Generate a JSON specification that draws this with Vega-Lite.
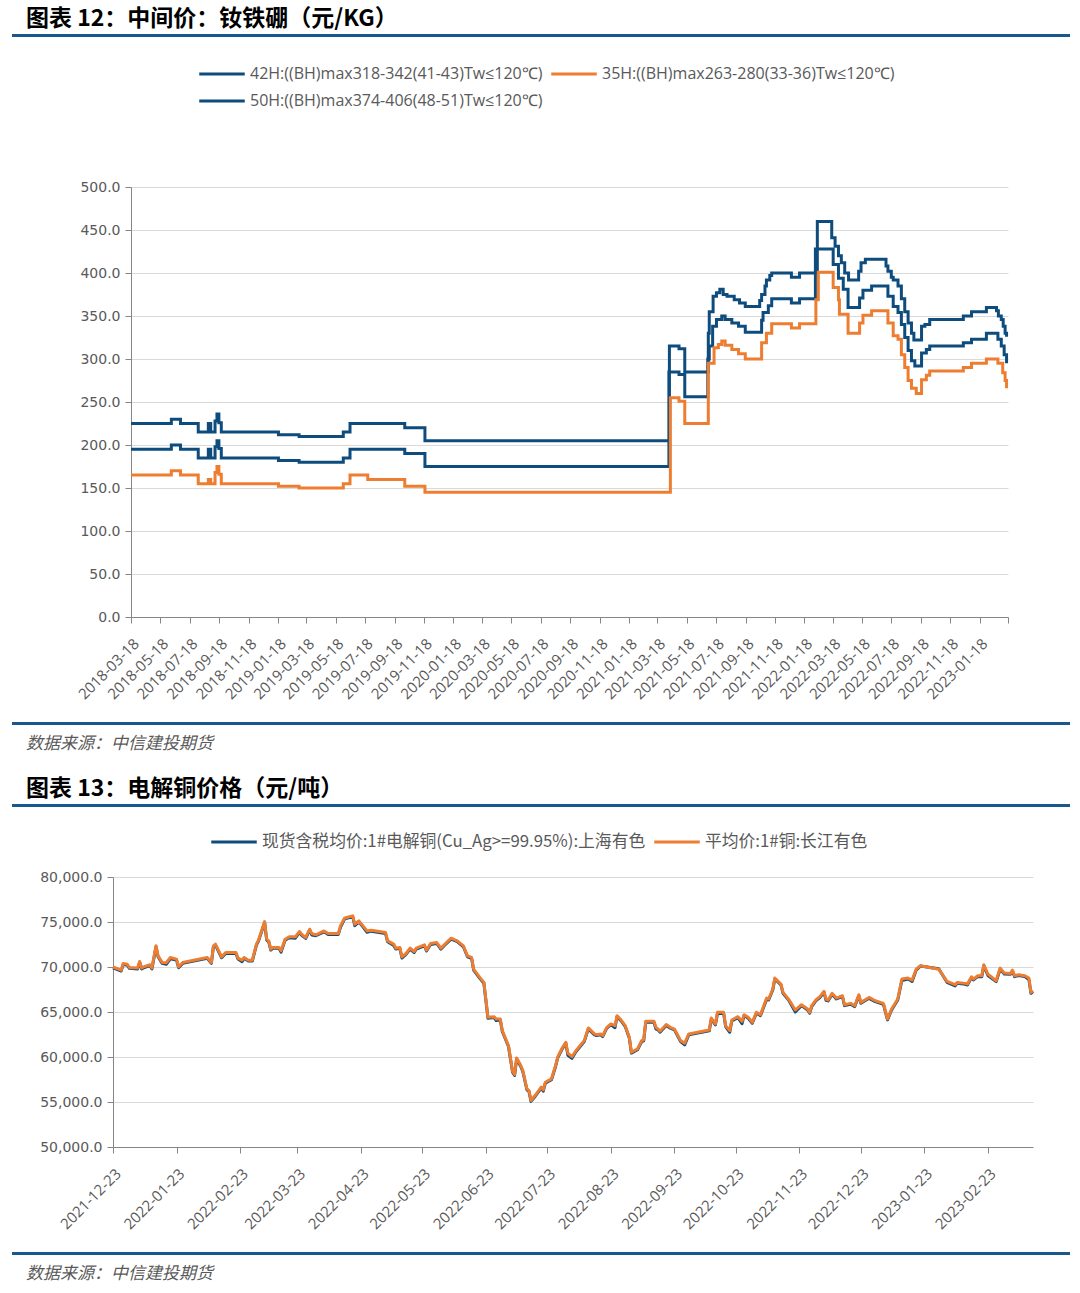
{
  "$schema": "https://vega.github.io/schema/vega-lite/v6.json",
  "background": "white",
  "padding": {"left": 12, "right": 8, "top": 7, "bottom": 4},
  "config": {
    "font": "Noto Sans CJK SC",
    "view": {"stroke": null},
    "axis": {
      "domainColor": "#868686", "tickColor": "#868686", "gridColor": "#d9d9d9",
      "labelColor": "#595959", "title": null, "domainWidth": 1, "tickWidth": 1
    },
    "legend": {"padding": 0}
  },
  "resolve": {"scale": {"color": "independent"}, "legend": {"color": "independent"}},
  "columns": 1,
  "spacing": 0,
  "concat": [
    {
      "width": 1056, "height": 1,
      "view": {"stroke": "#17598F", "strokeWidth": 2},
      "title": {"text": "图表 12：中间价：钕铁硼（元/KG）", "anchor": "start", "dx": 13, "offset": 4, "fontSize": 23, "fontWeight": "bold", "color": "#000000", "font": "Noto Sans CJK SC"},
      "data": {"values": []},
      "mark": "rule",
      "encoding": {}
    },
    {"width": 1, "height": 18, "data": {"values": []}, "mark": "rule", "encoding": {}},
    {
      "spacing": 0,
      "hconcat": [
        {"width": 1, "height": 1, "data": {"values": []}, "mark": "rule", "encoding": {}},
        {
          "width": 877, "height": 430,
          "data": {"values": [
            {"s":"50H","d":"2018-03-18","v":225},{"s":"50H","d":"2018-06-10","v":230},{"s":"50H","d":"2018-06-29","v":225},{"s":"50H","d":"2018-08-05","v":215},{"s":"50H","d":"2018-08-26","v":225},{"s":"50H","d":"2018-08-31","v":215},{"s":"50H","d":"2018-09-09","v":228},{"s":"50H","d":"2018-09-13","v":236},{"s":"50H","d":"2018-09-17","v":226},{"s":"50H","d":"2018-09-22","v":215},{"s":"50H","d":"2019-01-19","v":212},{"s":"50H","d":"2019-03-03","v":210},{"s":"50H","d":"2019-06-03","v":215},{"s":"50H","d":"2019-06-17","v":225},{"s":"50H","d":"2019-10-09","v":220},{"s":"50H","d":"2019-11-20","v":205},{"s":"50H","d":"2021-04-12","v":315},{"s":"50H","d":"2021-05-02","v":312},{"s":"50H","d":"2021-05-14","v":285},{"s":"50H","d":"2021-07-02","v":330},{"s":"50H","d":"2021-07-04","v":355},{"s":"50H","d":"2021-07-12","v":373},{"s":"50H","d":"2021-07-19","v":377},{"s":"50H","d":"2021-07-26","v":381},{"s":"50H","d":"2021-08-02","v":375},{"s":"50H","d":"2021-08-10","v":373},{"s":"50H","d":"2021-08-25","v":369},{"s":"50H","d":"2021-09-05","v":365},{"s":"50H","d":"2021-09-17","v":361},{"s":"50H","d":"2021-10-17","v":368},{"s":"50H","d":"2021-10-21","v":375},{"s":"50H","d":"2021-10-28","v":385},{"s":"50H","d":"2021-10-31","v":392},{"s":"50H","d":"2021-11-07","v":397},{"s":"50H","d":"2021-11-11","v":400},{"s":"50H","d":"2021-12-22","v":395},{"s":"50H","d":"2022-01-08","v":400},{"s":"50H","d":"2022-02-14","v":460},{"s":"50H","d":"2022-03-16","v":441},{"s":"50H","d":"2022-03-23","v":431},{"s":"50H","d":"2022-03-30","v":420},{"s":"50H","d":"2022-04-05","v":412},{"s":"50H","d":"2022-04-12","v":400},{"s":"50H","d":"2022-04-20","v":392},{"s":"50H","d":"2022-05-11","v":402},{"s":"50H","d":"2022-05-16","v":412},{"s":"50H","d":"2022-05-25","v":416},{"s":"50H","d":"2022-07-07","v":408},{"s":"50H","d":"2022-07-11","v":402},{"s":"50H","d":"2022-07-18","v":395},{"s":"50H","d":"2022-07-22","v":392},{"s":"50H","d":"2022-08-01","v":385},{"s":"50H","d":"2022-08-08","v":370},{"s":"50H","d":"2022-08-15","v":355},{"s":"50H","d":"2022-08-22","v":342},{"s":"50H","d":"2022-08-29","v":330},{"s":"50H","d":"2022-09-03","v":322},{"s":"50H","d":"2022-09-19","v":338},{"s":"50H","d":"2022-09-26","v":340},{"s":"50H","d":"2022-10-06","v":346},{"s":"50H","d":"2022-12-15","v":350},{"s":"50H","d":"2023-01-01","v":355},{"s":"50H","d":"2023-02-01","v":360},{"s":"50H","d":"2023-02-22","v":356},{"s":"50H","d":"2023-02-26","v":350},{"s":"50H","d":"2023-03-04","v":346},{"s":"50H","d":"2023-03-08","v":338},{"s":"50H","d":"2023-03-12","v":330},{"s":"50H","d":"2023-03-15","v":326},
            {"s":"42H","d":"2018-03-18","v":195},{"s":"42H","d":"2018-06-10","v":200},{"s":"42H","d":"2018-06-29","v":195},{"s":"42H","d":"2018-08-05","v":185},{"s":"42H","d":"2018-08-26","v":195},{"s":"42H","d":"2018-08-31","v":185},{"s":"42H","d":"2018-09-09","v":198},{"s":"42H","d":"2018-09-13","v":205},{"s":"42H","d":"2018-09-17","v":196},{"s":"42H","d":"2018-09-22","v":185},{"s":"42H","d":"2019-01-19","v":182},{"s":"42H","d":"2019-03-03","v":180},{"s":"42H","d":"2019-06-03","v":185},{"s":"42H","d":"2019-06-17","v":195},{"s":"42H","d":"2019-10-09","v":190},{"s":"42H","d":"2019-11-20","v":175},{"s":"42H","d":"2021-04-11","v":285},{"s":"42H","d":"2021-05-02","v":282},{"s":"42H","d":"2021-05-14","v":256},{"s":"42H","d":"2021-07-01","v":300},{"s":"42H","d":"2021-07-04","v":315},{"s":"42H","d":"2021-07-11","v":338},{"s":"42H","d":"2021-07-19","v":346},{"s":"42H","d":"2021-07-30","v":350},{"s":"42H","d":"2021-08-06","v":346},{"s":"42H","d":"2021-08-20","v":342},{"s":"42H","d":"2021-09-03","v":338},{"s":"42H","d":"2021-09-17","v":331},{"s":"42H","d":"2021-10-21","v":345},{"s":"42H","d":"2021-10-24","v":354},{"s":"42H","d":"2021-11-04","v":362},{"s":"42H","d":"2021-11-11","v":370},{"s":"42H","d":"2021-12-22","v":365},{"s":"42H","d":"2022-01-08","v":370},{"s":"42H","d":"2022-02-10","v":428},{"s":"42H","d":"2022-03-19","v":410},{"s":"42H","d":"2022-03-30","v":394},{"s":"42H","d":"2022-04-09","v":381},{"s":"42H","d":"2022-04-19","v":360},{"s":"42H","d":"2022-05-13","v":371},{"s":"42H","d":"2022-05-20","v":380},{"s":"42H","d":"2022-06-07","v":385},{"s":"42H","d":"2022-07-11","v":373},{"s":"42H","d":"2022-07-22","v":361},{"s":"42H","d":"2022-08-01","v":354},{"s":"42H","d":"2022-08-08","v":340},{"s":"42H","d":"2022-08-15","v":325},{"s":"42H","d":"2022-08-22","v":310},{"s":"42H","d":"2022-08-29","v":298},{"s":"42H","d":"2022-09-05","v":292},{"s":"42H","d":"2022-09-19","v":307},{"s":"42H","d":"2022-09-29","v":311},{"s":"42H","d":"2022-10-06","v":315},{"s":"42H","d":"2022-12-15","v":319},{"s":"42H","d":"2023-01-01","v":323},{"s":"42H","d":"2023-02-01","v":330},{"s":"42H","d":"2023-02-25","v":323},{"s":"42H","d":"2023-03-04","v":315},{"s":"42H","d":"2023-03-10","v":305},{"s":"42H","d":"2023-03-15","v":295},
            {"s":"35H","d":"2018-03-18","v":165},{"s":"35H","d":"2018-06-10","v":170},{"s":"35H","d":"2018-06-29","v":165},{"s":"35H","d":"2018-08-05","v":155},{"s":"35H","d":"2018-08-26","v":160},{"s":"35H","d":"2018-08-31","v":155},{"s":"35H","d":"2018-09-09","v":168},{"s":"35H","d":"2018-09-13","v":175},{"s":"35H","d":"2018-09-17","v":166},{"s":"35H","d":"2018-09-22","v":155},{"s":"35H","d":"2019-01-19","v":152},{"s":"35H","d":"2019-03-03","v":150},{"s":"35H","d":"2019-06-03","v":155},{"s":"35H","d":"2019-06-17","v":165},{"s":"35H","d":"2019-07-24","v":160},{"s":"35H","d":"2019-10-09","v":152},{"s":"35H","d":"2019-11-20","v":145},{"s":"35H","d":"2021-04-14","v":255},{"s":"35H","d":"2021-05-02","v":251},{"s":"35H","d":"2021-05-14","v":225},{"s":"35H","d":"2021-07-02","v":295},{"s":"35H","d":"2021-07-14","v":313},{"s":"35H","d":"2021-07-23","v":317},{"s":"35H","d":"2021-07-30","v":321},{"s":"35H","d":"2021-08-06","v":316},{"s":"35H","d":"2021-08-20","v":311},{"s":"35H","d":"2021-09-03","v":306},{"s":"35H","d":"2021-09-17","v":300},{"s":"35H","d":"2021-10-21","v":319},{"s":"35H","d":"2021-10-31","v":330},{"s":"35H","d":"2021-11-11","v":341},{"s":"35H","d":"2021-12-22","v":336},{"s":"35H","d":"2022-01-08","v":341},{"s":"35H","d":"2022-02-11","v":369},{"s":"35H","d":"2022-02-16","v":401},{"s":"35H","d":"2022-03-19","v":383},{"s":"35H","d":"2022-03-30","v":369},{"s":"35H","d":"2022-04-01","v":352},{"s":"35H","d":"2022-04-19","v":330},{"s":"35H","d":"2022-05-13","v":342},{"s":"35H","d":"2022-05-20","v":351},{"s":"35H","d":"2022-06-07","v":356},{"s":"35H","d":"2022-07-11","v":342},{"s":"35H","d":"2022-07-22","v":327},{"s":"35H","d":"2022-08-01","v":323},{"s":"35H","d":"2022-08-08","v":305},{"s":"35H","d":"2022-08-15","v":290},{"s":"35H","d":"2022-08-22","v":275},{"s":"35H","d":"2022-08-29","v":266},{"s":"35H","d":"2022-09-08","v":260},{"s":"35H","d":"2022-09-19","v":276},{"s":"35H","d":"2022-09-29","v":281},{"s":"35H","d":"2022-10-06","v":286},{"s":"35H","d":"2022-12-15","v":290},{"s":"35H","d":"2023-01-01","v":295},{"s":"35H","d":"2023-02-01","v":300},{"s":"35H","d":"2023-02-25","v":295},{"s":"35H","d":"2023-03-07","v":284},{"s":"35H","d":"2023-03-12","v":275},{"s":"35H","d":"2023-03-15","v":266}
          ]},
          "mark": {"type": "line", "interpolate": "step-after", "strokeWidth": 3},
          "encoding": {
            "x": {"field": "d", "type": "temporal",
              "scale": {"type": "utc", "domain": [{"year": 2018, "month": 3, "date": 18, "utc": true}, {"year": 2023, "month": 3, "date": 18, "utc": true}]},
              "axis": {
                "values": [
                  {"year":2018,"month":3,"date":18,"utc":true},{"year":2018,"month":5,"date":18,"utc":true},{"year":2018,"month":7,"date":18,"utc":true},{"year":2018,"month":9,"date":18,"utc":true},{"year":2018,"month":11,"date":18,"utc":true},
                  {"year":2019,"month":1,"date":18,"utc":true},{"year":2019,"month":3,"date":18,"utc":true},{"year":2019,"month":5,"date":18,"utc":true},{"year":2019,"month":7,"date":18,"utc":true},{"year":2019,"month":9,"date":18,"utc":true},{"year":2019,"month":11,"date":18,"utc":true},
                  {"year":2020,"month":1,"date":18,"utc":true},{"year":2020,"month":3,"date":18,"utc":true},{"year":2020,"month":5,"date":18,"utc":true},{"year":2020,"month":7,"date":18,"utc":true},{"year":2020,"month":9,"date":18,"utc":true},{"year":2020,"month":11,"date":18,"utc":true},
                  {"year":2021,"month":1,"date":18,"utc":true},{"year":2021,"month":3,"date":18,"utc":true},{"year":2021,"month":5,"date":18,"utc":true},{"year":2021,"month":7,"date":18,"utc":true},{"year":2021,"month":9,"date":18,"utc":true},{"year":2021,"month":11,"date":18,"utc":true},
                  {"year":2022,"month":1,"date":18,"utc":true},{"year":2022,"month":3,"date":18,"utc":true},{"year":2022,"month":5,"date":18,"utc":true},{"year":2022,"month":7,"date":18,"utc":true},{"year":2022,"month":9,"date":18,"utc":true},{"year":2022,"month":11,"date":18,"utc":true},
                  {"year":2023,"month":1,"date":18,"utc":true},{"year":2023,"month":3,"date":18,"utc":true}
                ],
                "format": "%Y-%m-%d",
                "labelExpr": "utcyear(datum.value) == 2023 && utcmonth(datum.value) == 2 ? '' : datum.label",
                "labelAngle": -45, "labelFont": "Open Sans", "labelFontSize": 15,
                "labelOverlap": false, "labelFlush": false, "labelBound": false,
                "tickSize": 6, "labelPadding": 13, "labelOffset": 0, "grid": false
              }
            },
            "y": {"field": "v", "type": "quantitative",
              "scale": {"domain": [0, 500]},
              "axis": {"values": [0,50,100,150,200,250,300,350,400,450,500], "format": ".1f", "labelFont": "DejaVu Sans", "labelFontSize": 14, "tickSize": 6, "labelPadding": 5, "grid": true, "minExtent": 117, "maxExtent": 117}
            },
            "color": {"field": "s", "type": "nominal",
              "scale": {"domain": ["42H", "35H", "50H"], "range": ["#0E4C7D", "#ED7D31", "#0E4C7D"]},
              "legend": {
                "orient": "none", "legendX": 190, "legendY": -132, "direction": "horizontal", "columns": 2,
                "title": null, "symbolType": "M-1.3,0H1.3", "symbolSize": 1225, "symbolStrokeWidth": 3,
                "labelFont": "Open Sans", "labelFontSize": 16, "labelColor": "#595959", "labelLimit": 600,
                "labelOffset": 9, "columnPadding": 2, "rowPadding": 0,
                "labelExpr": "datum.label == '42H' ? '42H:((BH)max318-342(41-43)Tw≤120℃)' : datum.label == '35H' ? '35H:((BH)max263-280(33-36)Tw≤120℃)' : '50H:((BH)max374-406(48-51)Tw≤120℃)'"
              }
            }
          }
        }
      ]
    },
    {"width": 1, "height": 20, "data": {"values": []}, "mark": "rule", "encoding": {}},
    {
      "width": 1056, "height": 1,
      "view": {"stroke": "#17598F", "strokeWidth": 2},
      "title": {"text": "数据来源：中信建投期货", "orient": "bottom", "anchor": "start", "dx": 13, "offset": 12, "fontSize": 17, "fontStyle": "italic", "fontWeight": "normal", "color": "#595959", "font": "Noto Sans CJK SC"},
      "data": {"values": []},
      "mark": "rule",
      "encoding": {}
    },
    {"width": 1, "height": 24, "data": {"values": []}, "mark": "rule", "encoding": {}},
    {
      "width": 1056, "height": 1,
      "view": {"stroke": "#17598F", "strokeWidth": 2},
      "title": {"text": "图表 13：电解铜价格（元/吨）", "anchor": "start", "dx": 13, "offset": 4, "fontSize": 23, "fontWeight": "bold", "color": "#000000", "font": "Noto Sans CJK SC"},
      "data": {"values": []},
      "mark": "rule",
      "encoding": {}
    },
    {"width": 1, "height": 16, "data": {"values": []}, "mark": "rule", "encoding": {}},
    {
      "spacing": 0,
      "hconcat": [
        {"width": 1, "height": 1, "data": {"values": []}, "mark": "rule", "encoding": {}},
        {
          "width": 920, "height": 270,
          "data": {"values": [
            {"s":"A","d":"2021-12-23","v":69900},{"s":"A","d":"2021-12-27","v":69550},{"s":"A","d":"2021-12-28","v":70290},{"s":"A","d":"2021-12-30","v":70200},{"s":"A","d":"2021-12-31","v":69850},{"s":"A","d":"2022-01-04","v":69780},{"s":"A","d":"2022-01-05","v":70520},{"s":"A","d":"2022-01-06","v":69780},{"s":"A","d":"2022-01-07","v":69920},{"s":"A","d":"2022-01-10","v":70150},{"s":"A","d":"2022-01-11","v":69780},{"s":"A","d":"2022-01-13","v":72250},{"s":"A","d":"2022-01-14","v":71140},{"s":"A","d":"2022-01-16","v":70400},{"s":"A","d":"2022-01-18","v":70300},{"s":"A","d":"2022-01-20","v":70900},{"s":"A","d":"2022-01-23","v":70770},{"s":"A","d":"2022-01-24","v":69920},{"s":"A","d":"2022-01-26","v":70400},{"s":"A","d":"2022-02-07","v":70960},{"s":"A","d":"2022-02-09","v":70400},{"s":"A","d":"2022-02-10","v":72250},{"s":"A","d":"2022-02-11","v":72440},{"s":"A","d":"2022-02-14","v":71030},{"s":"A","d":"2022-02-16","v":71510},{"s":"A","d":"2022-02-21","v":71510},{"s":"A","d":"2022-02-22","v":70880},{"s":"A","d":"2022-02-24","v":70600},{"s":"A","d":"2022-02-25","v":70960},{"s":"A","d":"2022-02-27","v":70660},{"s":"A","d":"2022-03-01","v":70660},{"s":"A","d":"2022-03-03","v":72440},{"s":"A","d":"2022-03-04","v":72880},{"s":"A","d":"2022-03-07","v":74950},{"s":"A","d":"2022-03-08","v":72990},{"s":"A","d":"2022-03-09","v":72800},{"s":"A","d":"2022-03-10","v":71880},{"s":"A","d":"2022-03-11","v":72070},{"s":"A","d":"2022-03-14","v":72070},{"s":"A","d":"2022-03-15","v":71650},{"s":"A","d":"2022-03-17","v":72990},{"s":"A","d":"2022-03-19","v":73250},{"s":"A","d":"2022-03-22","v":73200},{"s":"A","d":"2022-03-24","v":73840},{"s":"A","d":"2022-03-25","v":73550},{"s":"A","d":"2022-03-27","v":73170},{"s":"A","d":"2022-03-29","v":74100},{"s":"A","d":"2022-03-30","v":73550},{"s":"A","d":"2022-04-01","v":73470},{"s":"A","d":"2022-04-05","v":73910},{"s":"A","d":"2022-04-07","v":73620},{"s":"A","d":"2022-04-12","v":73620},{"s":"A","d":"2022-04-13","v":74400},{"s":"A","d":"2022-04-15","v":75320},{"s":"A","d":"2022-04-16","v":75400},{"s":"A","d":"2022-04-19","v":75580},{"s":"A","d":"2022-04-20","v":74600},{"s":"A","d":"2022-04-22","v":75020},{"s":"A","d":"2022-04-24","v":74470},{"s":"A","d":"2022-04-26","v":73850},{"s":"A","d":"2022-04-28","v":73980},{"s":"A","d":"2022-05-05","v":73730},{"s":"A","d":"2022-05-06","v":72810},{"s":"A","d":"2022-05-09","v":72400},{"s":"A","d":"2022-05-10","v":71990},{"s":"A","d":"2022-05-12","v":72070},{"s":"A","d":"2022-05-13","v":71000},{"s":"A","d":"2022-05-15","v":71400},{"s":"A","d":"2022-05-17","v":71990},{"s":"A","d":"2022-05-19","v":71600},{"s":"A","d":"2022-05-20","v":71990},{"s":"A","d":"2022-05-24","v":72360},{"s":"A","d":"2022-05-25","v":71770},{"s":"A","d":"2022-05-27","v":72510},{"s":"A","d":"2022-05-30","v":72620},{"s":"A","d":"2022-06-01","v":71990},{"s":"A","d":"2022-06-03","v":72440},{"s":"A","d":"2022-06-06","v":73100},{"s":"A","d":"2022-06-09","v":72810},{"s":"A","d":"2022-06-12","v":72250},{"s":"A","d":"2022-06-14","v":71140},{"s":"A","d":"2022-06-16","v":70960},{"s":"A","d":"2022-06-17","v":69660},{"s":"A","d":"2022-06-20","v":68740},{"s":"A","d":"2022-06-22","v":68190},{"s":"A","d":"2022-06-24","v":64310},{"s":"A","d":"2022-06-27","v":64380},{"s":"A","d":"2022-06-28","v":64050},{"s":"A","d":"2022-06-30","v":64120},{"s":"A","d":"2022-07-01","v":62830},{"s":"A","d":"2022-07-04","v":61170},{"s":"A","d":"2022-07-06","v":58320},{"s":"A","d":"2022-07-07","v":57950},{"s":"A","d":"2022-07-08","v":59800},{"s":"A","d":"2022-07-10","v":58950},{"s":"A","d":"2022-07-11","v":58400},{"s":"A","d":"2022-07-13","v":56360},{"s":"A","d":"2022-07-14","v":56180},{"s":"A","d":"2022-07-15","v":55070},{"s":"A","d":"2022-07-17","v":55620},{"s":"A","d":"2022-07-20","v":56550},{"s":"A","d":"2022-07-21","v":56200},{"s":"A","d":"2022-07-22","v":57100},{"s":"A","d":"2022-07-25","v":57470},{"s":"A","d":"2022-07-27","v":58950},{"s":"A","d":"2022-07-28","v":59870},{"s":"A","d":"2022-07-30","v":60800},{"s":"A","d":"2022-08-01","v":61540},{"s":"A","d":"2022-08-02","v":60200},{"s":"A","d":"2022-08-04","v":59850},{"s":"A","d":"2022-08-06","v":60610},{"s":"A","d":"2022-08-08","v":61170},{"s":"A","d":"2022-08-10","v":61720},{"s":"A","d":"2022-08-12","v":63130},{"s":"A","d":"2022-08-15","v":62460},{"s":"A","d":"2022-08-16","v":62380},{"s":"A","d":"2022-08-18","v":62460},{"s":"A","d":"2022-08-19","v":62270},{"s":"A","d":"2022-08-21","v":63200},{"s":"A","d":"2022-08-23","v":63570},{"s":"A","d":"2022-08-25","v":63250},{"s":"A","d":"2022-08-26","v":64490},{"s":"A","d":"2022-08-28","v":64010},{"s":"A","d":"2022-08-30","v":63380},{"s":"A","d":"2022-09-01","v":62090},{"s":"A","d":"2022-09-02","v":60430},{"s":"A","d":"2022-09-05","v":60800},{"s":"A","d":"2022-09-07","v":61720},{"s":"A","d":"2022-09-08","v":61800},{"s":"A","d":"2022-09-09","v":63860},{"s":"A","d":"2022-09-13","v":63860},{"s":"A","d":"2022-09-14","v":63100},{"s":"A","d":"2022-09-15","v":63010},{"s":"A","d":"2022-09-16","v":62760},{"s":"A","d":"2022-09-19","v":63500},{"s":"A","d":"2022-09-21","v":63200},{"s":"A","d":"2022-09-23","v":63010},{"s":"A","d":"2022-09-26","v":61720},{"s":"A","d":"2022-09-28","v":61350},{"s":"A","d":"2022-09-30","v":62460},{"s":"A","d":"2022-10-10","v":62900},{"s":"A","d":"2022-10-11","v":64230},{"s":"A","d":"2022-10-13","v":63570},{"s":"A","d":"2022-10-14","v":64800},{"s":"A","d":"2022-10-17","v":64860},{"s":"A","d":"2022-10-18","v":63380},{"s":"A","d":"2022-10-20","v":62750},{"s":"A","d":"2022-10-21","v":64010},{"s":"A","d":"2022-10-24","v":64380},{"s":"A","d":"2022-10-26","v":63700},{"s":"A","d":"2022-10-27","v":64600},{"s":"A","d":"2022-10-29","v":64310},{"s":"A","d":"2022-10-31","v":63750},{"s":"A","d":"2022-11-02","v":64860},{"s":"A","d":"2022-11-04","v":64600},{"s":"A","d":"2022-11-07","v":66400},{"s":"A","d":"2022-11-08","v":66340},{"s":"A","d":"2022-11-10","v":67450},{"s":"A","d":"2022-11-11","v":68670},{"s":"A","d":"2022-11-14","v":68000},{"s":"A","d":"2022-11-15","v":67080},{"s":"A","d":"2022-11-18","v":66230},{"s":"A","d":"2022-11-21","v":65000},{"s":"A","d":"2022-11-24","v":65710},{"s":"A","d":"2022-11-27","v":65230},{"s":"A","d":"2022-11-28","v":64860},{"s":"A","d":"2022-11-29","v":65600},{"s":"A","d":"2022-12-01","v":66230},{"s":"A","d":"2022-12-03","v":66600},{"s":"A","d":"2022-12-05","v":67190},{"s":"A","d":"2022-12-06","v":66300},{"s":"A","d":"2022-12-07","v":66230},{"s":"A","d":"2022-12-09","v":66970},{"s":"A","d":"2022-12-11","v":66450},{"s":"A","d":"2022-12-14","v":66710},{"s":"A","d":"2022-12-15","v":65710},{"s":"A","d":"2022-12-18","v":65860},{"s":"A","d":"2022-12-20","v":65600},{"s":"A","d":"2022-12-22","v":66820},{"s":"A","d":"2022-12-23","v":65970},{"s":"A","d":"2022-12-27","v":66520},{"s":"A","d":"2022-12-30","v":66150},{"s":"A","d":"2023-01-03","v":65860},{"s":"A","d":"2023-01-05","v":64120},{"s":"A","d":"2023-01-07","v":65230},{"s":"A","d":"2023-01-10","v":66340},{"s":"A","d":"2023-01-12","v":68500},{"s":"A","d":"2023-01-15","v":68670},{"s":"A","d":"2023-01-17","v":68400},{"s":"A","d":"2023-01-19","v":69660},{"s":"A","d":"2023-01-21","v":70100},{"s":"A","d":"2023-01-30","v":69800},{"s":"A","d":"2023-02-03","v":68300},{"s":"A","d":"2023-02-07","v":67900},{"s":"A","d":"2023-02-08","v":68190},{"s":"A","d":"2023-02-12","v":68080},{"s":"A","d":"2023-02-13","v":68000},{"s":"A","d":"2023-02-15","v":68820},{"s":"A","d":"2023-02-16","v":68560},{"s":"A","d":"2023-02-18","v":68930},{"s":"A","d":"2023-02-20","v":68930},{"s":"A","d":"2023-02-21","v":70150},{"s":"A","d":"2023-02-23","v":69050},{"s":"A","d":"2023-02-27","v":68370},{"s":"A","d":"2023-03-01","v":69780},{"s":"A","d":"2023-03-03","v":69220},{"s":"A","d":"2023-03-06","v":69190},{"s":"A","d":"2023-03-07","v":69550},{"s":"A","d":"2023-03-08","v":68930},{"s":"A","d":"2023-03-10","v":69040},{"s":"A","d":"2023-03-13","v":68930},{"s":"A","d":"2023-03-15","v":68600},{"s":"A","d":"2023-03-16","v":67080},{"s":"A","d":"2023-03-17","v":67260},
            {"s":"B","d":"2021-12-23","v":70000},{"s":"B","d":"2021-12-27","v":69650},{"s":"B","d":"2021-12-28","v":70390},{"s":"B","d":"2021-12-30","v":70300},{"s":"B","d":"2021-12-31","v":69950},{"s":"B","d":"2022-01-04","v":69880},{"s":"B","d":"2022-01-05","v":70620},{"s":"B","d":"2022-01-06","v":69880},{"s":"B","d":"2022-01-07","v":70020},{"s":"B","d":"2022-01-10","v":70250},{"s":"B","d":"2022-01-11","v":69880},{"s":"B","d":"2022-01-13","v":72350},{"s":"B","d":"2022-01-14","v":71240},{"s":"B","d":"2022-01-16","v":70500},{"s":"B","d":"2022-01-18","v":70470},{"s":"B","d":"2022-01-20","v":71060},{"s":"B","d":"2022-01-23","v":70870},{"s":"B","d":"2022-01-24","v":70020},{"s":"B","d":"2022-01-26","v":70500},{"s":"B","d":"2022-02-07","v":71060},{"s":"B","d":"2022-02-09","v":70500},{"s":"B","d":"2022-02-10","v":72350},{"s":"B","d":"2022-02-11","v":72540},{"s":"B","d":"2022-02-14","v":71130},{"s":"B","d":"2022-02-16","v":71610},{"s":"B","d":"2022-02-21","v":71610},{"s":"B","d":"2022-02-22","v":70980},{"s":"B","d":"2022-02-24","v":70760},{"s":"B","d":"2022-02-25","v":71060},{"s":"B","d":"2022-02-27","v":70760},{"s":"B","d":"2022-03-01","v":70760},{"s":"B","d":"2022-03-03","v":72540},{"s":"B","d":"2022-03-04","v":72980},{"s":"B","d":"2022-03-07","v":75050},{"s":"B","d":"2022-03-08","v":73090},{"s":"B","d":"2022-03-09","v":72900},{"s":"B","d":"2022-03-10","v":71980},{"s":"B","d":"2022-03-11","v":72170},{"s":"B","d":"2022-03-14","v":72170},{"s":"B","d":"2022-03-15","v":71800},{"s":"B","d":"2022-03-17","v":73090},{"s":"B","d":"2022-03-19","v":73350},{"s":"B","d":"2022-03-22","v":73350},{"s":"B","d":"2022-03-24","v":73940},{"s":"B","d":"2022-03-25","v":73650},{"s":"B","d":"2022-03-27","v":73270},{"s":"B","d":"2022-03-29","v":74200},{"s":"B","d":"2022-03-30","v":73720},{"s":"B","d":"2022-04-01","v":73570},{"s":"B","d":"2022-04-05","v":74010},{"s":"B","d":"2022-04-07","v":73720},{"s":"B","d":"2022-04-12","v":73720},{"s":"B","d":"2022-04-13","v":74570},{"s":"B","d":"2022-04-15","v":75420},{"s":"B","d":"2022-04-16","v":75500},{"s":"B","d":"2022-04-19","v":75680},{"s":"B","d":"2022-04-20","v":74750},{"s":"B","d":"2022-04-22","v":75120},{"s":"B","d":"2022-04-24","v":74570},{"s":"B","d":"2022-04-26","v":74010},{"s":"B","d":"2022-04-28","v":74080},{"s":"B","d":"2022-05-05","v":73830},{"s":"B","d":"2022-05-06","v":72910},{"s":"B","d":"2022-05-09","v":72540},{"s":"B","d":"2022-05-10","v":72090},{"s":"B","d":"2022-05-12","v":72170},{"s":"B","d":"2022-05-13","v":71130},{"s":"B","d":"2022-05-15","v":71500},{"s":"B","d":"2022-05-17","v":72090},{"s":"B","d":"2022-05-19","v":71720},{"s":"B","d":"2022-05-20","v":72090},{"s":"B","d":"2022-05-24","v":72460},{"s":"B","d":"2022-05-25","v":71870},{"s":"B","d":"2022-05-27","v":72610},{"s":"B","d":"2022-05-30","v":72720},{"s":"B","d":"2022-06-01","v":72090},{"s":"B","d":"2022-06-03","v":72540},{"s":"B","d":"2022-06-06","v":73200},{"s":"B","d":"2022-06-09","v":72910},{"s":"B","d":"2022-06-12","v":72350},{"s":"B","d":"2022-06-14","v":71240},{"s":"B","d":"2022-06-16","v":71060},{"s":"B","d":"2022-06-17","v":69760},{"s":"B","d":"2022-06-20","v":68840},{"s":"B","d":"2022-06-22","v":68290},{"s":"B","d":"2022-06-24","v":64410},{"s":"B","d":"2022-06-27","v":64480},{"s":"B","d":"2022-06-28","v":64220},{"s":"B","d":"2022-06-30","v":64220},{"s":"B","d":"2022-07-01","v":62930},{"s":"B","d":"2022-07-04","v":61270},{"s":"B","d":"2022-07-06","v":58420},{"s":"B","d":"2022-07-07","v":58050},{"s":"B","d":"2022-07-08","v":59900},{"s":"B","d":"2022-07-10","v":59050},{"s":"B","d":"2022-07-11","v":58500},{"s":"B","d":"2022-07-13","v":56460},{"s":"B","d":"2022-07-14","v":56280},{"s":"B","d":"2022-07-15","v":55170},{"s":"B","d":"2022-07-17","v":55720},{"s":"B","d":"2022-07-20","v":56650},{"s":"B","d":"2022-07-21","v":56350},{"s":"B","d":"2022-07-22","v":57200},{"s":"B","d":"2022-07-25","v":57570},{"s":"B","d":"2022-07-27","v":59050},{"s":"B","d":"2022-07-28","v":59970},{"s":"B","d":"2022-07-30","v":60900},{"s":"B","d":"2022-08-01","v":61640},{"s":"B","d":"2022-08-02","v":60420},{"s":"B","d":"2022-08-04","v":60050},{"s":"B","d":"2022-08-06","v":60710},{"s":"B","d":"2022-08-08","v":61270},{"s":"B","d":"2022-08-10","v":61820},{"s":"B","d":"2022-08-12","v":63230},{"s":"B","d":"2022-08-15","v":62560},{"s":"B","d":"2022-08-16","v":62480},{"s":"B","d":"2022-08-18","v":62560},{"s":"B","d":"2022-08-19","v":62370},{"s":"B","d":"2022-08-21","v":63300},{"s":"B","d":"2022-08-23","v":63670},{"s":"B","d":"2022-08-25","v":63480},{"s":"B","d":"2022-08-26","v":64590},{"s":"B","d":"2022-08-28","v":64110},{"s":"B","d":"2022-08-30","v":63480},{"s":"B","d":"2022-09-01","v":62190},{"s":"B","d":"2022-09-02","v":60530},{"s":"B","d":"2022-09-05","v":60900},{"s":"B","d":"2022-09-07","v":61820},{"s":"B","d":"2022-09-08","v":61900},{"s":"B","d":"2022-09-09","v":63960},{"s":"B","d":"2022-09-13","v":63960},{"s":"B","d":"2022-09-14","v":63300},{"s":"B","d":"2022-09-15","v":63110},{"s":"B","d":"2022-09-16","v":62860},{"s":"B","d":"2022-09-19","v":63600},{"s":"B","d":"2022-09-21","v":63300},{"s":"B","d":"2022-09-23","v":63110},{"s":"B","d":"2022-09-26","v":61820},{"s":"B","d":"2022-09-28","v":61530},{"s":"B","d":"2022-09-30","v":62560},{"s":"B","d":"2022-10-10","v":63000},{"s":"B","d":"2022-10-11","v":64330},{"s":"B","d":"2022-10-13","v":63670},{"s":"B","d":"2022-10-14","v":64960},{"s":"B","d":"2022-10-17","v":64960},{"s":"B","d":"2022-10-18","v":63480},{"s":"B","d":"2022-10-20","v":62930},{"s":"B","d":"2022-10-21","v":64110},{"s":"B","d":"2022-10-24","v":64480},{"s":"B","d":"2022-10-26","v":63960},{"s":"B","d":"2022-10-27","v":64700},{"s":"B","d":"2022-10-29","v":64410},{"s":"B","d":"2022-10-31","v":63850},{"s":"B","d":"2022-11-02","v":64960},{"s":"B","d":"2022-11-04","v":64700},{"s":"B","d":"2022-11-07","v":66550},{"s":"B","d":"2022-11-08","v":66440},{"s":"B","d":"2022-11-10","v":67550},{"s":"B","d":"2022-11-11","v":68770},{"s":"B","d":"2022-11-14","v":68100},{"s":"B","d":"2022-11-15","v":67180},{"s":"B","d":"2022-11-18","v":66330},{"s":"B","d":"2022-11-21","v":65220},{"s":"B","d":"2022-11-24","v":65810},{"s":"B","d":"2022-11-27","v":65330},{"s":"B","d":"2022-11-28","v":64960},{"s":"B","d":"2022-11-29","v":65700},{"s":"B","d":"2022-12-01","v":66330},{"s":"B","d":"2022-12-03","v":66700},{"s":"B","d":"2022-12-05","v":67290},{"s":"B","d":"2022-12-06","v":66440},{"s":"B","d":"2022-12-07","v":66330},{"s":"B","d":"2022-12-09","v":67070},{"s":"B","d":"2022-12-11","v":66550},{"s":"B","d":"2022-12-14","v":66810},{"s":"B","d":"2022-12-15","v":65810},{"s":"B","d":"2022-12-18","v":65960},{"s":"B","d":"2022-12-20","v":65700},{"s":"B","d":"2022-12-22","v":66920},{"s":"B","d":"2022-12-23","v":66070},{"s":"B","d":"2022-12-27","v":66620},{"s":"B","d":"2022-12-30","v":66250},{"s":"B","d":"2023-01-03","v":65960},{"s":"B","d":"2023-01-05","v":64220},{"s":"B","d":"2023-01-07","v":65330},{"s":"B","d":"2023-01-10","v":66440},{"s":"B","d":"2023-01-12","v":68660},{"s":"B","d":"2023-01-15","v":68770},{"s":"B","d":"2023-01-17","v":68550},{"s":"B","d":"2023-01-19","v":69760},{"s":"B","d":"2023-01-21","v":70130},{"s":"B","d":"2023-01-30","v":69760},{"s":"B","d":"2023-02-03","v":68400},{"s":"B","d":"2023-02-07","v":68030},{"s":"B","d":"2023-02-08","v":68290},{"s":"B","d":"2023-02-12","v":68180},{"s":"B","d":"2023-02-13","v":68100},{"s":"B","d":"2023-02-15","v":68920},{"s":"B","d":"2023-02-16","v":68660},{"s":"B","d":"2023-02-18","v":69030},{"s":"B","d":"2023-02-20","v":69030},{"s":"B","d":"2023-02-21","v":70250},{"s":"B","d":"2023-02-23","v":69210},{"s":"B","d":"2023-02-27","v":68470},{"s":"B","d":"2023-03-01","v":69880},{"s":"B","d":"2023-03-03","v":69320},{"s":"B","d":"2023-03-06","v":69290},{"s":"B","d":"2023-03-07","v":69650},{"s":"B","d":"2023-03-08","v":69030},{"s":"B","d":"2023-03-10","v":69140},{"s":"B","d":"2023-03-13","v":69030},{"s":"B","d":"2023-03-15","v":68770},{"s":"B","d":"2023-03-16","v":67180},{"s":"B","d":"2023-03-17","v":67360}
          ]},
          "mark": {"type": "line", "strokeWidth": 3, "strokeJoin": "round"},
          "encoding": {
            "x": {"field": "d", "type": "temporal",
              "scale": {"type": "utc", "domain": [{"year": 2021, "month": 12, "date": 23, "utc": true}, {"year": 2023, "month": 3, "date": 17, "utc": true}]},
              "axis": {
                "values": [
                  {"year":2021,"month":12,"date":23,"utc":true},{"year":2022,"month":1,"date":23,"utc":true},{"year":2022,"month":2,"date":23,"utc":true},{"year":2022,"month":3,"date":23,"utc":true},{"year":2022,"month":4,"date":23,"utc":true},{"year":2022,"month":5,"date":23,"utc":true},{"year":2022,"month":6,"date":23,"utc":true},{"year":2022,"month":7,"date":23,"utc":true},{"year":2022,"month":8,"date":23,"utc":true},{"year":2022,"month":9,"date":23,"utc":true},{"year":2022,"month":10,"date":23,"utc":true},{"year":2022,"month":11,"date":23,"utc":true},{"year":2022,"month":12,"date":23,"utc":true},{"year":2023,"month":1,"date":23,"utc":true},{"year":2023,"month":2,"date":23,"utc":true}
                ],
                "format": "%Y-%m-%d",
                "labelAngle": -45, "labelFont": "Open Sans", "labelFontSize": 15,
                "labelOverlap": false, "labelFlush": false, "labelBound": false,
                "tickSize": 6, "labelPadding": 13, "labelOffset": 0, "grid": false
              }
            },
            "y": {"field": "v", "type": "quantitative",
              "scale": {"domain": [50000, 80000]},
              "axis": {"values": [50000,55000,60000,65000,70000,75000,80000], "format": ",.1f", "labelFont": "DejaVu Sans", "labelFontSize": 14, "tickSize": 6, "labelPadding": 5, "grid": true, "minExtent": 99, "maxExtent": 99}
            },
            "color": {"field": "s", "type": "nominal",
              "scale": {"domain": ["A", "B"], "range": ["#0E4C7D", "#ED7D31"]},
              "legend": {
                "orient": "none", "legendX": 202, "legendY": -54, "direction": "horizontal",
                "title": null, "symbolType": "M-1.3,0H1.3", "symbolSize": 1225, "symbolStrokeWidth": 3,
                "labelFont": "Noto Sans CJK SC", "labelFontSize": 16.8, "labelColor": "#595959", "labelLimit": 600,
                "labelOffset": 9, "columnPadding": 2,
                "labelExpr": "datum.label == 'A' ? '现货含税均价:1#电解铜(Cu_Ag>=99.95%):上海有色' : '平均价:1#铜:长江有色'"
              }
            }
          }
        }
      ]
    },
    {"width": 1, "height": 20, "data": {"values": []}, "mark": "rule", "encoding": {}},
    {
      "width": 1056, "height": 1,
      "view": {"stroke": "#17598F", "strokeWidth": 2},
      "title": {"text": "数据来源：中信建投期货", "orient": "bottom", "anchor": "start", "dx": 13, "offset": 12, "fontSize": 17, "fontStyle": "italic", "fontWeight": "normal", "color": "#595959", "font": "Noto Sans CJK SC"},
      "data": {"values": []},
      "mark": "rule",
      "encoding": {}
    }
  ]
}
